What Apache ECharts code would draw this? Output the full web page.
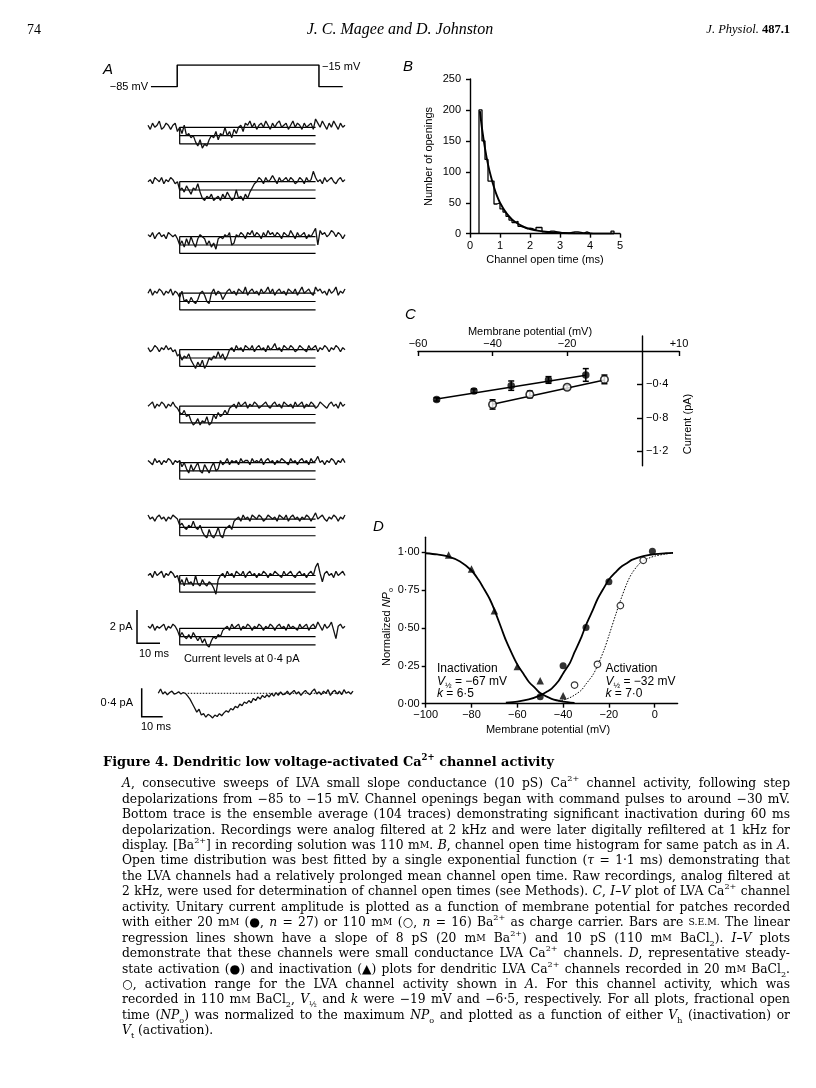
<!DOCTYPE html>
<html><head><meta charset="utf-8">
<script src="https://cdn.jsdelivr.net/npm/echarts@6.0.0/dist/echarts.min.js"></script>
<style>html,body{margin:0;padding:0;background:#fff}#c{width:816px;height:1088px}</style>
</head><body><div id="c"></div>
<script>
// ================= DATA =================
// Panel A: voltage command (ms, mV)
const stepTimes = [1.3, 12.9, 12.9, 75.5, 75.5, 86];
const stepVolts = [-85, -85, -15, -15, -85, -85];
// Panel A: single-channel sweeps, one value per ms (units of 0.1 pA)
const trace1 = [1,-1,2,0,1,3,-1,0, 2,1,-1,1,2,-2,0,-3, 1,-4,-3,-5,-4,-7,-9,-6, -10,-8,-9,-6,-4,-5,-2,-6, -3,-4,0,-4,-2,-5,-1,-3, 0,1,-2,2,1,3,0,2, -1,1,2,0,3,1,-1,2, 0,2,3,0,1,2,-1,1, 3,0,2,1,-1,2,0,1, 2,-1,4,2,0,3,1,-1, 2,0,3,1,-1,2,0,1];
const trace2 = [0,1,-1,2,1,0,2,-1, 1,0,2,1,-1,0,-4,-3, -5,-2,-4,-6,-3,-4,-1,-5, -8,-9,-7,-8,-6,-9,-8,-7, -9,-6,-8,-5,-7,-9,-8,-4, -8,-7,-9,-6,-8,-5,-3,-1, 0,2,1,-1,2,0,1,3, 1,-1,2,0,1,2,0,2, 1,-1,0,2,1,-1,2,0, 1,5,2,0,1,-1,2,0, 1,2,0,-1,1,2,0,1];
const trace3 = [1,0,2,-1,1,2,0,1, -1,2,1,0,1,-1,-4,-2, -5,-1,-4,0,-3,-5,-1,1, 0,-1,-4,-2,-5,-3,-6,-1, 0,-1,1,0,2,-4,-3,1, 0,2,1,-1,2,1,3,0, 2,1,-1,2,0,3,1,2, 0,2,1,-1,2,1,0,3, 1,-1,2,0,1,2,-1,1, 0,2,4,-4,3,1,2,0, 1,3,2,0,2,1,-1,1];
const trace4 = [0,2,-1,1,0,2,1,-1, 1,0,2,-1,1,0,-2,1, -4,-3,-5,-2,-4,-5,-3,0, 1,-1,-4,-5,0,2,-1,1, 0,-3,-1,1,2,0,1,-1, 2,1,0,3,-1,1,2,0, 1,-1,2,0,1,3,0,2, -1,1,2,0,1,-1,2,1, 0,2,-1,1,3,0,1,2, 0,-1,3,1,2,0,1,-1, 2,0,1,3,-1,1,0,2];
const trace5 = [1,-1,0,2,1,-1,1,0, 2,0,1,-1,0,-3,-2,-5, -3,-4,-2,-5,-7,-9,-6,-8, -5,-9,-7,-4,-5,-3,-4,-1, -4,-2,-5,-3,0,1,-1,2, 0,1,-1,2,1,0,2,-1, 1,2,0,1,-1,2,0,1, 3,0,1,-1,2,1,0,2, 1,-1,0,2,1,0,-1,2, 0,1,2,-1,1,0,2,1, -1,1,0,2,1,-1,1,0];
const trace6 = [0,1,2,-1,1,0,2,1, -1,1,0,2,0,-1,-3,-4, -2,-5,-4,-7,-9,-8,-6,-9, -7,-8,-5,-9,-8,-4,-6,-3, -5,-4,-2,-4,-1,0,1,-1, 2,0,1,2,-1,1,0,2, 1,-1,0,1,2,0,-1,1, 2,0,1,-1,2,1,0,1, -1,2,0,1,2,-1,1,0, 2,1,-1,0,2,1,0,-1, 1,2,0,1,-1,2,0,1];
const trace7 = [1,0,-1,2,0,1,-1,1, 0,2,1,-1,1,0,1,-2, 0,-3,-5,-1,-4,-2,0,-4, -5,-1,-3,-5,-2,0,-4,-3, 1,-1,0,2,-1,1,0,1, -1,2,0,1,1,-1,2,0, 1,0,2,-1,1,2,0,1, -1,1,0,2,1,0,-1,2, 0,1,-1,1,2,0,1,-1, 2,0,1,3,0,1,-1,1, 0,2,1,-1,1,0,2,0];
const trace8 = [2,0,1,-1,1,2,0,1, -1,1,0,2,1,0,-3,-2, -4,-5,-3,-4,-1,-4,-5,-3, -6,-8,-9,-5,-8,-9,-7,-4, -8,-9,-5,-4,-3,-5,-1,0, 1,-1,2,0,1,-1,2,1, 0,2,1,-1,0,2,1,0, 1,-1,2,1,0,2,-1,1, 2,0,1,-1,1,0,2,1, -1,1,3,0,1,2,0,-1, 1,0,2,1,-1,1,0,2];
const trace9 = [0,1,-1,2,0,1,2,-1, 1,0,2,1,-1,0,-4,-2, -5,-1,-4,-3,-5,0,-4,-5, -2,-4,-5,-3,-4,-6,-9,-2, 0,1,-1,2,0,1,-1,2, 1,0,2,-1,1,2,0,1, -1,1,0,2,1,-1,1,0, 2,1,0,-1,2,0,1,2, 0,-1,1,2,0,1,-1,1, 2,0,4,6,1,-3,1,2, 0,1,-1,2,0,1,2,0];
const trace10 = [1,0,2,-1,1,0,1,2, -1,1,0,2,1,-1,-4,-2, -4,-5,-3,-5,-2,-4,-6,-4, -7,-5,-8,-9,-6,-4,-5,-3, -4,-1,0,1,-1,2,0,1, 2,-1,1,0,2,1,-1,1, 0,2,1,-1,1,0,2,1, -1,1,2,0,1,-1,2,0, 1,0,-1,2,0,1,2,-1, 1,2,0,3,1,-1,2,0, 1,3,-1,-5,1,2,0,1];
const traces = [trace1, trace2, trace3, trace4, trace5, trace6, trace7, trace8, trace9, trace10];
const levelValues = [0, -4, -8];          // 0, 0.4, 0.8 pA
const levelWindow = [14, 74];             // ms
// Ensemble average, one value per ms (units of 0.01 pA)
const avgTrace = [0,6,-1,2,-2,1,3,-1, 0,2,-1,1,0,-4,-8,-14, -20,-26,-22,-30,-28,-33,-29,-31, -34,-30,-32,-28,-31,-27,-24,-26, -21,-23,-18,-20,-15,-17,-12,-14, -10,-13,-7,-10,-5,-8,-3,-6, -2,-5,0,-4,1,-3,2,-2, -1,3,-2,1,4,-1,2,-3, 1,4,0,-2,3,6,-1,2, -2,3,0,5,-3,2,4,-1, 3,-2,5,0,2,-1,3];
const avgBaselineWindow = [13, 82];

// Panel B: open time histogram (bins of 0.1 ms starting at 0.3 ms)
const histStart = 0.3, histBin = 0.1;
const histCounts = [200,150,120,85,85,48,50,40,35,28,22,18,20,12,10,8,9,8,6,10,10,3,2,4,4,3,2,1,1,0,2,3,3,2,1,3,1,0,0,0,0,0,0,0,4,0,0];
const fitTime = [0.33,0.4,0.5,0.6,0.7,0.8,0.9,1.0,1.2,1.4,1.6,1.8,2.0,2.3,2.6,3.0,3.5,4.0,4.8];
const fitCount = [198,170,138,112,92,75,61,50,34,23,16,11,7.5,4.5,2.8,1.5,0.7,0.3,0.1];

// Panel C: I-V
const ivFilledV = [-55,-45,-35,-25,-15];
const ivFilledI = [-0.58,-0.48,-0.415,-0.347,-0.287];
const ivFilledErr = [0.02,0.025,0.056,0.04,0.076];
const ivOpenV = [-40,-30,-20,-10];
const ivOpenI = [-0.64,-0.52,-0.435,-0.34];
const ivOpenErr = [0.056,0.04,0.025,0.052];
const ivFilledFitV = [-55,-15], ivFilledFitI = [-0.575,-0.29];
const ivOpenFitV = [-40,-10], ivOpenFitI = [-0.638,-0.347];
const cXTicks = [-60,-40,-20,10];
const cYTicks = [-0.4,-0.8,-1.2];

// Panel D: activation / inactivation
const inactV = [-90,-80,-70,-60,-50,-40];
const inactN = [0.982,0.89,0.614,0.245,0.152,0.053];
const actV = [-50,-40,-30,-20,-1];
const actN = [0.046,0.251,0.504,0.806,1.007];
const openActV = [-35,-25,-15,-5];
const openActN = [0.123,0.26,0.648,0.947];
const inactFitV = [-100,-95,-90,-85,-80,-77,-75,-72,-70,-67,-65,-62,-60,-57,-55,-52,-50,-45,-40,-35];
const inactFitN = [0.994,0.986,0.972,0.94,0.88,0.82,0.77,0.69,0.62,0.5,0.42,0.32,0.26,0.19,0.145,0.1,0.07,0.032,0.014,0.006];
const actFitV = [-65,-60,-55,-50,-47,-45,-42,-40,-37,-35,-32,-30,-27,-25,-22,-20,-17,-15,-12,-10,-5,0,5,8];
const actFitN = [0.007,0.014,0.028,0.055,0.08,0.1,0.15,0.2,0.27,0.34,0.44,0.52,0.62,0.69,0.77,0.82,0.87,0.9,0.93,0.95,0.975,0.988,0.994,0.996];
const openFitV = [-42,-40,-37,-35,-32,-30,-27,-25,-22,-20,-17,-15,-12,-10,-7,-5,-2,0,5,8];
const openFitN = [0.017,0.024,0.04,0.057,0.09,0.13,0.19,0.25,0.36,0.45,0.59,0.68,0.8,0.86,0.92,0.945,0.965,0.975,0.99,0.995];
const dXTicks = [-100,-80,-60,-40,-20,0];
const dYTicks = [0,0.25,0.5,0.75,1];

// Caption text
const titleText = "Figure 4. Dendritic low voltage-activated Ca{sup|2+} channel activity";
const captionLines = [
 "{i|A}, consecutive sweeps of LVA small slope conductance (10 pS) Ca{sup|2+} channel activity, following step",
 "depolarizations from −85 to −15 mV. Channel openings began with command pulses to around −30 mV.",
 "Bottom trace is the ensemble average (104 traces) demonstrating significant inactivation during 60 ms",
 "depolarization. Recordings were analog filtered at 2 kHz and were later digitally refiltered at 1 kHz for",
 "display. [Ba{sup|2+}] in recording solution was 110 m{sc|M}. {i|B}, channel open time histogram for same patch as in {i|A}.",
 "Open time distribution was best fitted by a single exponential function ({i|τ} = 1·1 ms) demonstrating that",
 "the LVA channels had a relatively prolonged mean channel open time. Raw recordings, analog filtered at",
 "2 kHz, were used for determination of channel open times (see Methods). {i|C}, {i|I–V} plot of LVA Ca{sup|2+} channel",
 "activity. Unitary current amplitude is plotted as a function of membrane potential for patches recorded",
 "with either 20 m{sc|M} (●, {i|n} = 27) or 110 m{sc|M} (○, {i|n} = 16) Ba{sup|2+} as charge carrier. Bars are {sc|S.E.M.} The linear",
 "regression lines shown have a slope of 8 pS (20 m{sc|M} Ba{sup|2+}) and 10 pS (110 m{sc|M} BaCl{sub|2}). {i|I–V} plots",
 "demonstrate that these channels were small conductance LVA Ca{sup|2+} channels. {i|D}, representative steady-",
 "state activation (●) and inactivation (▲) plots for dendritic LVA Ca{sup|2+} channels recorded in 20 m{sc|M} BaCl{sub|2}.",
 "○, activation range for the LVA channel activity shown in {i|A}. For this channel activity, which was",
 "recorded in 110 m{sc|M} BaCl{sub|2}, {i|V}{sub|½} and {i|k} were −19 mV and −6·5, respectively. For all plots, fractional open",
 "time ({i|NP}{sub|o}) was normalized to the maximum {i|NP}{sub|o} and plotted as a function of either {i|V}{sub|h} (inactivation) or",
 "{i|V}{sub|t} (activation)."
];

// ================= BUILD =================
const SANS = "'Liberation Sans', Arial, Helvetica, sans-serif";
const SERIF = "'Liberation Serif', 'DejaVu Serif', serif";
const CAPSERIF = "'DejaVu Serif', 'Liberation Serif', serif";
const BLACK = '#000';
const AX = {color: BLACK, width: 1.4};
const grids = [], xAxes = [], yAxes = [], series = [], graphics = [];
function addGrid(g, x, y) {
  grids.push(g);
  const gi = grids.length - 1;
  x.gridIndex = gi; y.gridIndex = gi;
  xAxes.push(x); yAxes.push(y);
  return gi;
}
function zip(a, b) { return a.map((v, i) => [v, b[i]]); }
function lineSeries(gi, data, extra) {
  return Object.assign({type: 'line', xAxisIndex: gi, yAxisIndex: gi, data, symbol: 'none', silent: true,
    lineStyle: {color: BLACK, width: 1.3}, z: 3}, extra || {});
}
const hiddenX = (min, max) => ({type: 'value', min, max, show: false});
const hiddenY = (min, max) => ({type: 'value', min, max, show: false});
const LBL = {show: true, fontSize: 11, color: BLACK, fontFamily: SANS};

// ---- Panel A ----
const T_LEFT = 148, T_W = 197, T_MAX = 87;
const gStep = addGrid({left: T_LEFT, top: 65, width: T_W, height: 21.7}, hiddenX(0, T_MAX), hiddenY(-85, -15));
series.push(lineSeries(gStep, zip(stepTimes, stepVolts), {lineStyle: {color: BLACK, width: 1.5}}));

const traceBase = [127.3, 181.7, 236.7, 293.2, 349.7, 406.2, 462.6, 519.1, 575.5, 628.3];
const UNIT_PX = 2.08, TY_MAX = 8, TY_MIN = -14;
traces.forEach((tr, i) => {
  const base = traceBase[i];
  const gi = addGrid({left: T_LEFT, top: base - TY_MAX * UNIT_PX, width: T_W, height: (TY_MAX - TY_MIN) * UNIT_PX},
    hiddenX(0, T_MAX), hiddenY(TY_MIN, TY_MAX));
  const [t0, t1] = levelWindow;
  series.push(lineSeries(gi, [[t1, levelValues[0]], [t0, levelValues[0]], [t0, levelValues[2]], [t1, levelValues[2]]], {lineStyle: {color: BLACK, width: 1.2}, z: 2}));
  series.push(lineSeries(gi, [[t0, levelValues[1]], [t1, levelValues[1]]], {lineStyle: {color: BLACK, width: 1.2}, z: 2}));
  series.push(lineSeries(gi, tr.map((v, t) => [t, v]), {lineStyle: {color: '#111', width: 1.3}}));
});
// ensemble average
const gAvg = addGrid({left: 158.3, top: 682.4, width: 194.7, height: 39.9}, hiddenX(0, 86), hiddenY(-40, 15));
series.push(lineSeries(gAvg, [[avgBaselineWindow[0], 0], [avgBaselineWindow[1], 0]], {lineStyle: {color: BLACK, width: 1, type: [1.5, 1.5]}, z: 2}));
series.push(lineSeries(gAvg, avgTrace.map((v, t) => [t, v]), {lineStyle: {color: '#111', width: 1.3}}));

// ---- Panel B ----
const gB = addGrid({left: 470, top: 79, width: 150, height: 154.7},
  {type: 'value', min: 0, max: 5, interval: 1,
   axisLine: {show: true, onZero: false, lineStyle: AX}, axisTick: {show: true, length: 4, lineStyle: AX},
   axisLabel: Object.assign({margin: 7}, LBL), splitLine: {show: false}},
  {type: 'value', min: 0, max: 250, interval: 50,
   axisLine: {show: true, onZero: false, lineStyle: AX}, axisTick: {show: true, length: 4, lineStyle: AX},
   axisLabel: Object.assign({margin: 9}, LBL), splitLine: {show: false}});
const histData = [[histStart, 0]].concat(histCounts.map((c, i) => [Math.round((histStart + i * histBin) * 100) / 100, c]))
  .concat([[Math.round((histStart + histCounts.length * histBin) * 100) / 100, 0]]);
series.push(lineSeries(gB, histData, {step: 'end', lineStyle: {color: BLACK, width: 1.3}}));
series.push(lineSeries(gB, zip(fitTime, fitCount), {smooth: 0.3, lineStyle: {color: BLACK, width: 1.9}, z: 4}));

// ---- Panel C ----
const minusFmt = v => (v < 0 ? '−' : (v > 0 ? '+' : '')) + String(Math.abs(v)).replace('.', '·');
// data grid: its top edge is the zero-current line, carrying the voltage axis
const gC = addGrid({left: 418, top: 351, width: 261, height: 114.8},
  {type: 'value', min: -60, max: 10, position: 'top',
   axisLine: {show: true, onZero: false, lineStyle: AX},
   axisTick: {show: true, inside: true, length: 5, lineStyle: AX, customValues: cXTicks},
   axisLabel: Object.assign({margin: 2, customValues: cXTicks, formatter: v => minusFmt(v)}, LBL), splitLine: {show: false}},
  hiddenY(-1.375, 0));
// current axis grid: its left edge is the zero-voltage line
const gCy = addGrid({left: 642, top: 336, width: 37, height: 129.8},
  hiddenX(0, 10),
  {type: 'value', min: -1.375, max: 0.18, position: 'left',
   axisLine: {show: true, onZero: false, lineStyle: AX},
   axisTick: {show: true, inside: false, length: 5, lineStyle: AX, customValues: cYTicks},
   axisLabel: Object.assign({inside: true, margin: 4, customValues: cYTicks, formatter: v => minusFmt(v)}, LBL), splitLine: {show: false}});
function errBars(gi, V, I, E) {
  return {type: 'custom', xAxisIndex: gi, yAxisIndex: gi, silent: true, z: 4, clip: false,
    data: V.map((v, i) => [v, I[i], E[i]]),
    encode: {x: 0, y: 1},
    renderItem: (p, api) => {
      const x = api.value(0), y = api.value(1), e = api.value(2);
      const a = api.coord([x, y + e]), b = api.coord([x, y - e]);
      const st = {stroke: BLACK, lineWidth: 1.5};
      return {type: 'group', children: [
        {type: 'line', shape: {x1: a[0], y1: a[1], x2: b[0], y2: b[1]}, style: st},
        {type: 'line', shape: {x1: a[0] - 3, y1: a[1], x2: a[0] + 3, y2: a[1]}, style: st},
        {type: 'line', shape: {x1: b[0] - 3, y1: b[1], x2: b[0] + 3, y2: b[1]}, style: st}
      ]};
    }};
}
series.push(lineSeries(gC, zip(ivFilledFitV, ivFilledFitI), {lineStyle: {color: BLACK, width: 1.6}}));
series.push(lineSeries(gC, zip(ivOpenFitV, ivOpenFitI), {lineStyle: {color: BLACK, width: 1.6}}));
series.push(errBars(gC, ivFilledV, ivFilledI, ivFilledErr));
series.push(errBars(gC, ivOpenV, ivOpenI, ivOpenErr));
series.push({type: 'scatter', xAxisIndex: gC, yAxisIndex: gC, data: zip(ivFilledV, ivFilledI), symbol: 'circle', symbolSize: 7.5,
  itemStyle: {color: BLACK}, silent: true, z: 6});
series.push({type: 'scatter', xAxisIndex: gC, yAxisIndex: gC, data: zip(ivOpenV, ivOpenI), symbol: 'circle', symbolSize: 7.5,
  itemStyle: {color: '#fff', borderColor: BLACK, borderWidth: 1.6}, silent: true, z: 6});

// ---- Panel D ----
const gD = addGrid({left: 425.7, top: 537.2, width: 251.9, height: 166.5},
  {type: 'value', min: -100, max: 10,
   axisLine: {show: true, onZero: false, lineStyle: AX},
   axisTick: {show: true, length: 4, lineStyle: AX, customValues: dXTicks},
   axisLabel: Object.assign({margin: 6, customValues: dXTicks, formatter: v => v < 0 ? '−' + Math.abs(v) : String(v)}, LBL),
   splitLine: {show: false}},
  {type: 'value', min: 0, max: 1.1,
   axisLine: {show: true, onZero: false, lineStyle: AX},
   axisTick: {show: true, length: 4, lineStyle: AX, customValues: dYTicks},
   axisLabel: Object.assign({margin: 6, customValues: dYTicks, formatter: v => v.toFixed(2).replace('.', '·')}, LBL),
   splitLine: {show: false}});
series.push(lineSeries(gD, zip(inactFitV, inactFitN), {smooth: 0.3, lineStyle: {color: BLACK, width: 1.8}}));
series.push(lineSeries(gD, zip(actFitV, actFitN), {smooth: 0.3, lineStyle: {color: BLACK, width: 1.8}}));
series.push(lineSeries(gD, zip(openFitV, openFitN), {smooth: 0.3, lineStyle: {color: BLACK, width: 1, type: [1.5, 1.5]}}));
series.push({type: 'scatter', xAxisIndex: gD, yAxisIndex: gD, data: zip(inactV, inactN), symbol: 'triangle', symbolSize: 7.5,
  itemStyle: {color: BLACK}, silent: true, z: 6});
series.push({type: 'scatter', xAxisIndex: gD, yAxisIndex: gD, data: zip(actV, actN), symbol: 'circle', symbolSize: 7,
  itemStyle: {color: BLACK}, silent: true, z: 6});
series.push({type: 'scatter', xAxisIndex: gD, yAxisIndex: gD, data: zip(openActV, openActN), symbol: 'circle', symbolSize: 6.5,
  itemStyle: {color: '#fff', borderColor: BLACK, borderWidth: 1.2}, silent: true, z: 6});

// ---- Text helpers ----
function richSet(size, family, bold) {
  const w = bold ? 'bold' : 'normal';
  const small = Math.round(size * 0.66 * 10) / 10;
  return {
    i: {fontStyle: 'italic', fontSize: size, fontFamily: family, fontWeight: w},
    b: {fontWeight: 'bold', fontSize: size, fontFamily: family},
    sc: {fontSize: Math.round(size * 0.76 * 10) / 10, fontFamily: family, fontWeight: w},
    sup: {fontSize: small, fontFamily: family, fontWeight: w, verticalAlign: 'top', lineHeight: small + 2},
    sub: {fontSize: small, fontFamily: family, fontWeight: w, verticalAlign: 'bottom', lineHeight: small + 1}
  };
}
function txt(x, y, text, o) {
  o = o || {};
  const size = o.size || 11, family = o.family || SANS, bold = !!o.bold;
  graphics.push({type: 'text', x, y, rotation: o.rotation || 0, silent: true, z: 10,
    style: {text, fill: BLACK, fontSize: size, fontFamily: family, fontStyle: o.italic ? 'italic' : 'normal',
      fontWeight: bold ? 'bold' : 'normal', align: o.align || 'left', verticalAlign: 'middle',
      lineHeight: Math.round(size * 1.45), rich: richSet(size, family, bold)}});
}
function poly(points, w) {
  graphics.push({type: 'polyline', silent: true, z: 10, shape: {points}, style: {stroke: BLACK, lineWidth: w || 1.5, fill: null}});
}

// header
txt(27, 30, '74', {size: 14, family: SERIF});
txt(400, 30, 'J. C. Magee and D. Johnston', {size: 16, family: SERIF, italic: true, align: 'center'});
txt(790, 30, '{i|J. Physiol.}{b| 487.1}', {size: 12.5, family: SERIF, align: 'right'});

// panel letters
txt(103, 70, 'A', {size: 15, italic: true});
txt(403, 67, 'B', {size: 15, italic: true});
txt(405, 315, 'C', {size: 15, italic: true});
txt(373, 527, 'D', {size: 15, italic: true});

// Panel A annotations
txt(148, 87, '−85 mV', {size: 11, align: 'right'});
txt(322, 67, '−15 mV', {size: 11});
poly([[137, 610], [137, 643.3], [160, 643.3]]);
txt(132.5, 627, '2 pA', {size: 11, align: 'right'});
txt(139, 653.5, '10 ms', {size: 11});
txt(241.7, 659, 'Current levels at 0·4 pA', {size: 11, align: 'center'});
poly([[141.7, 688.3], [141.7, 716.7], [162.7, 716.7]]);
txt(133, 703, '0·4 pA', {size: 11, align: 'right'});
txt(141, 727, '10 ms', {size: 11});

// Panel B names
txt(428.5, 156.5, 'Number of openings', {size: 11, align: 'center', rotation: Math.PI / 2});
txt(545, 259.5, 'Channel open time (ms)', {size: 11, align: 'center'});
// Panel C names
txt(530, 331.5, 'Membrane potential (mV)', {size: 11, align: 'center'});
txt(688, 424, 'Current (pA)', {size: 11, align: 'center', rotation: Math.PI / 2});
// Panel D names
txt(386.5, 627, 'Normalized {i|NP}{sub|o}', {size: 11, align: 'center', rotation: Math.PI / 2});
txt(548, 730, 'Membrane potential (mV)', {size: 11, align: 'center'});
txt(437, 669, 'Inactivation', {size: 12});
txt(437, 681.5, '{i|V}{sub|½} = −67 mV', {size: 12});
txt(437, 694, '{i|k} = 6·5', {size: 12});
txt(605.5, 669, 'Activation', {size: 12});
txt(605.5, 681.5, '{i|V}{sub|½} = −32 mV', {size: 12});
txt(605.5, 694, '{i|k} = 7·0', {size: 12});

// ---- Caption with justification ----
const mctx = document.createElement('canvas').getContext('2d');
function parseTokens(word) {
  const re = /\{(\w+)\|([^}]*)\}/g; const out = []; let last = 0, m;
  while ((m = re.exec(word))) { if (m.index > last) out.push(['', word.slice(last, m.index)]); out.push([m[1], m[2]]); last = re.lastIndex; }
  if (last < word.length) out.push(['', word.slice(last)]);
  return out;
}
function measureWord(word, size, bold, fam) {
  const rs = richSet(size, fam, bold); let w = 0;
  parseTokens(word).forEach(([st, s]) => {
    const r = st ? rs[st] : {};
    mctx.font = `${r.fontStyle || 'normal'} ${r.fontWeight || (bold ? 'bold' : 'normal')} ${r.fontSize || size}px ${fam}`;
    w += mctx.measureText(s).width;
  });
  return w;
}
function spaceW(size, bold, fam) { mctx.font = `normal ${bold ? 'bold' : 'normal'} ${size}px ${fam}`; return mctx.measureText(' ').width; }
function naturalWidth(line, size, bold, fam) {
  const ws = line.split(' ');
  return ws.reduce((a, w) => a + measureWord(w, size, bold, fam), 0) + spaceW(size, bold, fam) * (ws.length - 1);
}
const CAP_LEFT = 122, CAP_RIGHT = 790, CAP_TOP = 784, CAP_STEP = 15.45;
const maxNat = Math.max(...captionLines.map(l => naturalWidth(l, 13, false, CAPSERIF)));
const capSize = Math.round(Math.min(13, 13 * (CAP_RIGHT - CAP_LEFT - 8) / maxNat) * 10) / 10;
const TITLE_RIGHT = 553;
const titleSize = Math.round(Math.min(14.5, 13.5 * (TITLE_RIGHT - 103) / naturalWidth(titleText, 13.5, true, CAPSERIF)) * 10) / 10;
function placeLine(line, y, left, right, size, bold, justify, fam) {
  const words = line.split(' ');
  const widths = words.map(w => measureWord(w, size, bold, fam));
  const total = widths.reduce((a, b) => a + b, 0);
  const gap = (justify && words.length > 1) ? (right - left - total) / (words.length - 1) : spaceW(size, bold, fam);
  let x = left;
  words.forEach((w, k) => { txt(x, y, w, {size, family: fam, bold}); x += widths[k] + gap; });
}
placeLine(titleText, 763, 103, null, titleSize, true, false, CAPSERIF);
captionLines.forEach((l, i) => placeLine(l, CAP_TOP + i * CAP_STEP, CAP_LEFT, CAP_RIGHT, capSize, false, i < captionLines.length - 1, CAPSERIF));

// ================= RENDER =================
const chart = echarts.init(document.getElementById('c'), null, {renderer: 'canvas', width: 816, height: 1088});
chart.setOption({
  animation: false,
  backgroundColor: '#fff',
  grid: grids.map(g => Object.assign({containLabel: false}, g)),
  xAxis: xAxes,
  yAxis: yAxes,
  series,
  graphic: graphics
});
</script></body></html>
